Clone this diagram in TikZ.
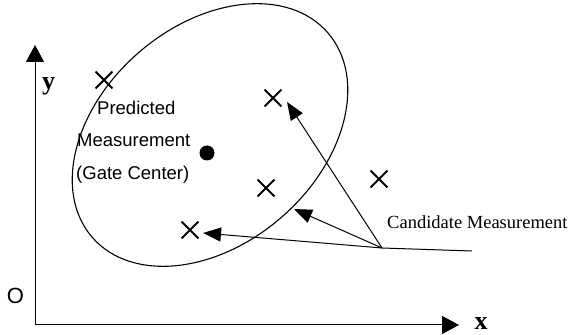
\documentclass[tikz,border=0pt]{standalone}
\usepackage{fontspec}
\setmainfont{Liberation Serif}
\newfontfamily\arialfont{Liberation Sans}
\usetikzlibrary{arrows.meta,shapes.misc}

\tikzset{
    meascross/.style={cross out, draw, line width=1.8pt, minimum size=15pt, inner sep=0pt},
    bigtip/.style={-{Triangle[length=18pt,width=14pt]}},
    axisline/.style={line width=1pt, -{Triangle[length=17pt,width=18pt]}},
    gateline/.style={line width=1.1pt},
    sanslabel/.style={font=\arialfont\fontsize{18.5}{20}\selectfont, inner sep=0pt, anchor=west},
    axislabel/.style={font=\fontsize{26}{28}\selectfont\bfseries, inner sep=0pt, anchor=base},
}

\begin{document}
\begin{tikzpicture}[x=10pt, y=10pt]
    \useasboundingbox (0, 0) rectangle (57.4, 33.5);
    % axes
        \coordinate (orig) at (3.5, 1.0);
        \coordinate (yend) at (3.5, 29.0);
        \coordinate (xend) at (45.9, 1.0);
        \draw[axisline] (orig) -- (yend);
        \draw[axisline] (orig) -- (xend);
            \node[axislabel] (ylab) at (4.85, 24.5){y};
            \node[axislabel] (xlab) at (48.1, 0.5){x};
            \node (olab) at (1.55, 3.95){\arialfont\fontsize{22}{24}\selectfont O};
    % gate
        \draw[gateline, rotate around={41:(21.0, 20.0)}] (21.0, 20.0) ellipse (15.6 and 10.9);
        \node[circle, fill, minimum size=15pt, inner sep=0pt] (gc) at (20.7, 18.2){};
            \node[sanslabel] (pred) at (9.7, 22.7){Predicted};
            \node[sanslabel] (meas) at (7.7, 19.5){Measurement};
            \node[sanslabel] (gcen) at (7.6, 16.0){(Gate Center)};
    % measurements
        \node[meascross] (m1) at (10.4, 25.5){};
        \node[meascross] (m2) at (27.3, 23.7){};
        \node[meascross] (m3) at (26.6, 14.7){};
        \node[meascross] (m4) at (37.9, 15.6){};
        \node[meascross] (m5) at (19.0, 10.5){};
    % candidate arrows
        \coordinate (src) at (38.2, 8.7);
        \coordinate (tail) at (47.2, 8.4);
        \coordinate (tipa) at (28.7, 23.3);
        \coordinate (tipb) at (29.4, 12.6);
        \coordinate (tipc) at (20.3, 10.2);
        \draw[line width=1pt] (tail) -- (src);
        \draw[line width=1pt, bigtip] (src) -- (tipa);
        \draw[line width=1pt, bigtip] (src) -- (tipb);
        \draw[line width=1pt, bigtip] (src) -- (tipc);
            \node[anchor=west, inner sep=0pt] (cand) at (38.7, 11.3){\fontsize{18.5}{20}\selectfont Candidate Measurement};
\end{tikzpicture}
\end{document}
